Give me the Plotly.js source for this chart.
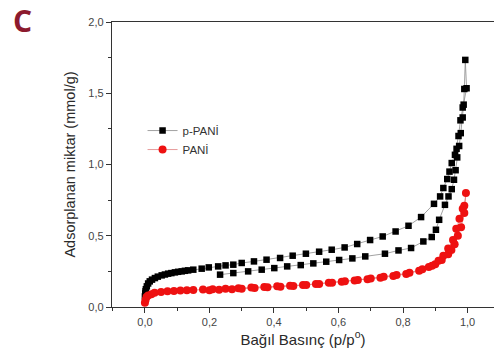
<!DOCTYPE html>
<html>
<head>
<meta charset="utf-8">
<script src="https://cdn.plot.ly/plotly-3.0.1.min.js"></script>
<style>html,body{margin:0;padding:0;background:#fff;}#chart{width:494px;height:356px;}</style>
</head>
<body>
<div id="chart"></div>
<script>
// p-PANİ: adsorption (lower branch) then desorption (upper branch)
const pPaniX = [0.233,0.274,0.32,0.362,0.401,0.441,0.483,0.522,0.562,0.602,0.643,0.683,0.744,0.786,0.825,0.863,0.889,0.902,0.912,0.93,0.941,0.951,0.958,0.963,0.968,0.974,0.979,0.985,0.988,0.99,0.993,
  0.997,0.985,0.978,0.972,0.966,0.961,0.951,0.944,0.937,0.925,0.915,0.896,0.856,0.817,0.777,0.737,0.698,0.658,0.619,0.579,0.54,0.499,0.458,0.419,0.377,0.338,0.3,0.274,0.25,0.227,0.198,0.176,0.15,0.134,0.124,0.114,0.103,0.093,0.082,0.072,0.062,0.052,0.04,0.031,0.022,0.015,0.01,0.006,0.003,0.002,0.001,0.0];
const pPaniY = [0.227,0.238,0.25,0.262,0.273,0.285,0.294,0.306,0.318,0.33,0.341,0.355,0.374,0.397,0.414,0.46,0.491,0.542,0.612,0.717,0.776,0.827,0.893,0.96,1.05,1.13,1.22,1.33,1.42,1.53,1.734,
  1.535,1.40,1.31,1.20,1.11,1.068,1.01,0.95,0.898,0.835,0.776,0.724,0.631,0.57,0.53,0.495,0.47,0.442,0.418,0.402,0.388,0.374,0.36,0.344,0.332,0.32,0.309,0.297,0.292,0.285,0.278,0.269,0.262,0.257,0.254,0.25,0.247,0.243,0.238,0.234,0.228,0.222,0.213,0.203,0.192,0.18,0.165,0.145,0.125,0.11,0.095,0.074];

// PANİ: adsorption then desorption
const paniX = [0.0,0.002,0.005,0.01,0.02,0.03,0.05,0.07,0.09,0.11,0.13,0.15,0.18,0.21,0.25,0.29,0.33,0.37,0.41,0.45,0.49,0.53,0.57,0.61,0.65,0.69,0.73,0.77,0.81,0.85,0.88,0.9,0.92,0.94,0.95,0.96,0.97,0.98,0.99,0.995,
  0.99,0.985,0.975,0.965,0.955,0.94,0.925,0.91,0.89,0.86,0.82,0.78,0.74,0.7,0.66,0.62,0.58,0.54,0.5,0.46,0.42,0.38,0.34,0.3,0.27,0.23,0.2];
const paniY = [0.03,0.05,0.07,0.08,0.09,0.1,0.105,0.11,0.112,0.115,0.117,0.12,0.122,0.125,0.128,0.132,0.136,0.14,0.145,0.15,0.155,0.162,0.17,0.178,0.186,0.195,0.205,0.218,0.232,0.255,0.28,0.3,0.33,0.37,0.4,0.44,0.5,0.56,0.66,0.8,
  0.71,0.69,0.62,0.55,0.47,0.41,0.36,0.325,0.29,0.265,0.24,0.225,0.212,0.2,0.19,0.18,0.17,0.162,0.155,0.148,0.142,0.138,0.133,0.128,0.124,0.121,0.118];

const seriesNames = ['p-PANİ', 'PANİ'];
const xTitle = 'Bağıl Basınç (p/p<sup>o</sup>)';
const yTitle = 'Adsorplanan miktar (mmol/g)';
const panelLabel = 'C';

const traces = [
  {x: pPaniX, y: pPaniY, name: seriesNames[0], mode: 'lines+markers', type: 'scatter',
   line: {color: '#8a8a8a', width: 0.8},
   marker: {symbol: 'square', size: 6.5, color: '#000'}},
  {x: paniX, y: paniY, name: seriesNames[1], mode: 'lines+markers', type: 'scatter',
   line: {color: '#e08080', width: 0.8},
   marker: {symbol: 'circle', size: 8, color: '#ee1111'}}
];

const fam = '"Liberation Sans", Arial, sans-serif';
const axisFont = {family: fam, size: 11, color: '#444'};

const layout = {
  width: 494, height: 356,
  margin: {l: 112, r: 0, t: 22, b: 49},
  paper_bgcolor: '#fff', plot_bgcolor: '#fff',
  separators: ',.',
  showlegend: true,
  legend: {x: 0.08, y: 0.67, xanchor: 'left', yanchor: 'top', bgcolor: 'rgba(0,0,0,0)',
           font: {family: fam, size: 11.5, color: '#333'},
           itemwidth: 30, tracegroupgap: 0},
  xaxis: {range: [-0.102, 1.082], dtick: 0.2, tick0: 0, tickformat: '.1f',
          showgrid: false, zeroline: false, showline: true, linecolor: '#333', linewidth: 1.2,
          mirror: true, ticks: 'outside', ticklen: 5, tickcolor: '#333', tickwidth: 1,
          minor: {dtick: 0.1, tick0: 0, ticks: 'outside', ticklen: 3, tickcolor: '#333', showgrid: false},
          tickfont: axisFont,
          title: {text: xTitle, font: {family: fam, size: 15, color: '#2a2a2a'}, standoff: 2}},
  yaxis: {range: [0, 2.0], dtick: 0.5, tick0: 0, tickformat: '.1f',
          showgrid: false, zeroline: false, showline: true, linecolor: '#333', linewidth: 1.2,
          mirror: false, ticks: 'outside', ticklen: 5, tickcolor: '#333', tickwidth: 1,
          minor: {dtick: 0.25, tick0: 0, ticks: 'outside', ticklen: 3, tickcolor: '#333', showgrid: false},
          tickfont: axisFont,
          title: {text: yTitle, font: {family: fam, size: 14.5, color: '#2a2a2a'}, standoff: 9}},
  annotations: [{text: '<b>' + panelLabel + '</b>', xref: 'paper', yref: 'paper', x: -0.233, y: 1.007,
                 xanchor: 'center', yanchor: 'middle', showarrow: false,
                 font: {family: '"Open Sans", sans-serif', size: 30, color: '#8c1a2e'}}]
};

Plotly.newPlot('chart', traces, layout, {staticPlot: true, displayModeBar: false});
</script>
</body>
</html>
